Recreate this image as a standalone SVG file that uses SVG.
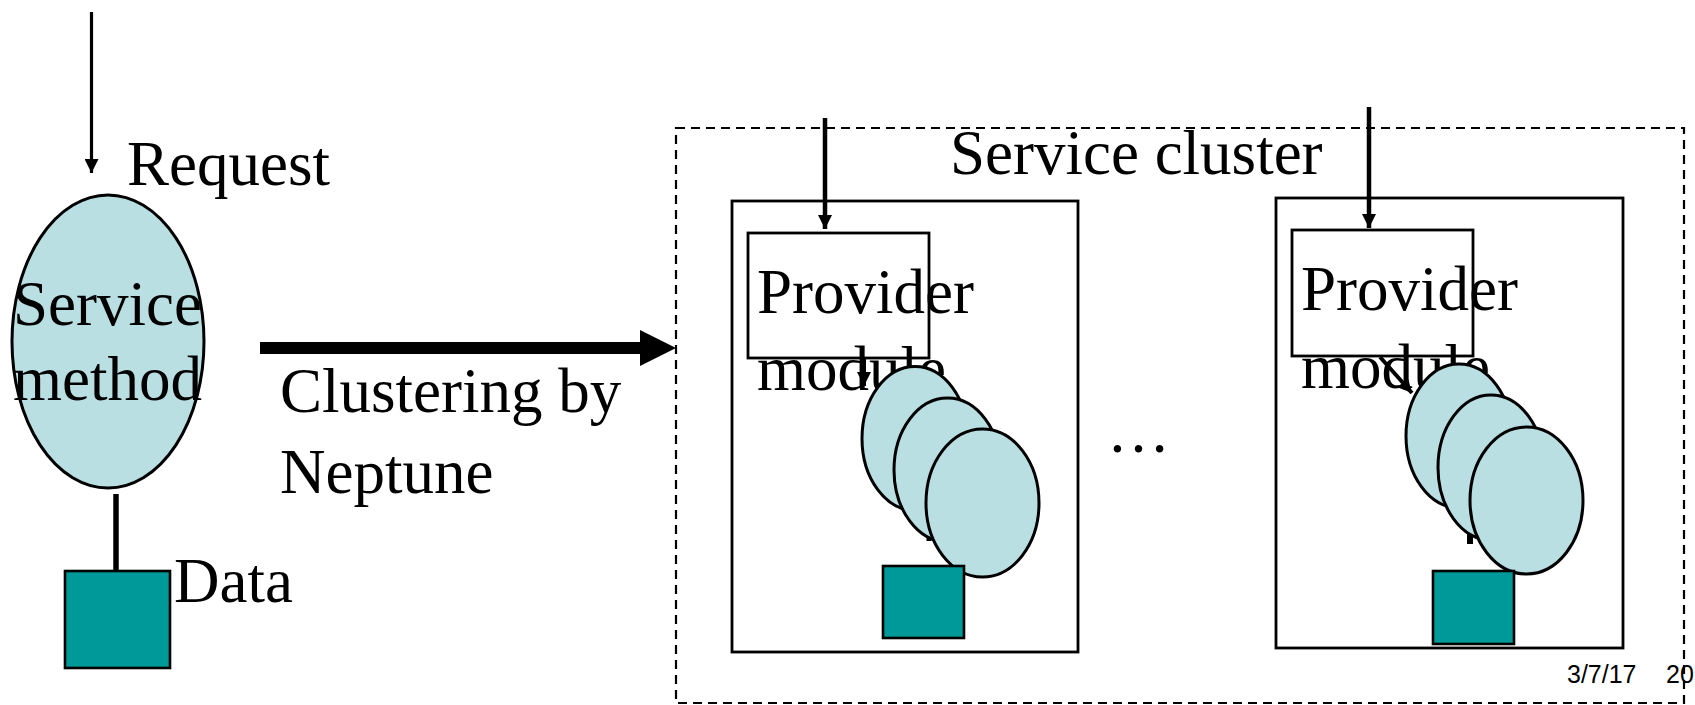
<svg xmlns="http://www.w3.org/2000/svg" width="1695" height="705" viewBox="0 0 1695 705">
  <defs>
    <style>
      .big { font-family: "Liberation Serif", "Times New Roman", serif; font-size: 63px; fill: #000; }
      .small { font-family: "Liberation Sans", Arial, sans-serif; font-size: 25px; fill: #000; }
      .blob { fill: #B9DFE3; stroke: #000; stroke-width: 3; }
      .store { fill: #009999; stroke: #000; stroke-width: 2.6; }
      .box { fill: none; stroke: #000; stroke-width: 2.8; }
      .frame { fill: #fff; stroke: #000; stroke-width: 2.8; }
      .wire { stroke: #000; fill: none; }
    </style>
    <marker id="head" viewBox="0 0 14 14" refX="14" refY="7" markerWidth="14" markerHeight="14" markerUnits="userSpaceOnUse" orient="auto">
      <path d="M0,0 L14,7 L0,14 Z" fill="#000"/>
    </marker>
  </defs>

  <rect width="1695" height="705" fill="#fff"/>

  <!-- service cluster frame -->
  <g id="cluster">
    <rect x="676" y="128" width="1008" height="575" fill="none" stroke="#000" stroke-width="2.2" stroke-dasharray="9 6"/>
    <text class="big" x="950" y="174">Service cluster</text>
    <text class="big" x="1107" y="452">…</text>
  </g>

  <!-- single service method -->
  <g id="method">
    <ellipse class="blob" cx="108" cy="341.5" rx="96" ry="146.5" stroke-width="2.4"/>
    <text class="big" x="13" y="325">Service</text>
    <text class="big" x="13" y="400">method</text>
  </g>
  <g id="data">
    <rect class="store" x="65" y="571" width="105" height="97"/>
    <text class="big" x="174" y="602">Data</text>
  </g>
  <g id="request-label">
    <text class="big" x="127" y="185">Request</text>
  </g>
  <g id="clustering-label">
    <text class="big" x="280" y="412">Clustering by</text>
    <text class="big" x="280" y="493">Neptune</text>
  </g>

  <!-- first node of the cluster -->
  <g id="node1">
    <rect class="frame" x="732" y="201" width="346" height="451"/>
    <rect class="box" x="748" y="233" width="181" height="125"/>
    <text class="big" x="757" y="313">Provider</text>
    <text class="big" x="757" y="390">module</text>
    <line class="wire" x1="864" y1="358" x2="864" y2="386" stroke-width="4" marker-end="url(#head)"/>
    <line class="wire" x1="929" y1="515" x2="929" y2="541" stroke-width="5"/>
    <ellipse class="blob" cx="915" cy="438.5" rx="53" ry="72"/>
    <ellipse class="blob" cx="947.5" cy="470" rx="53.5" ry="72"/>
    <ellipse class="blob" cx="982.5" cy="503" rx="56.5" ry="74"/>
    <rect class="store" x="883" y="566" width="81" height="72"/>
  </g>

  <!-- second node of the cluster -->
  <g id="node2">
    <rect class="frame" x="1276" y="198" width="347" height="450"/>
    <rect class="box" x="1292" y="230" width="181" height="126"/>
    <text class="big" x="1301" y="310">Provider</text>
    <text class="big" x="1301" y="388">module</text>
    <line class="wire" x1="1380" y1="357" x2="1412" y2="393" stroke-width="4" marker-end="url(#head)"/>
    <line class="wire" x1="1470" y1="515" x2="1470" y2="544" stroke-width="6"/>
    <ellipse class="blob" cx="1459" cy="436" rx="53" ry="72"/>
    <ellipse class="blob" cx="1491" cy="467.5" rx="53" ry="72.5"/>
    <ellipse class="blob" cx="1526.5" cy="500.5" rx="56.5" ry="73.5"/>
    <rect class="store" x="1433" y="571" width="81" height="73"/>
  </g>

  <!-- connectors -->
  <g id="connectors">
    <line class="wire" x1="91.5" y1="12" x2="91.5" y2="173" stroke-width="3.2" marker-end="url(#head)"/>
    <line class="wire" x1="116" y1="494" x2="116" y2="570" stroke-width="5.5"/>
    <line class="wire" x1="260" y1="348" x2="645" y2="348" stroke-width="12"/>
    <path d="M640,330 L676,348 L640,366 Z" fill="#000"/>
    <line class="wire" x1="825" y1="118" x2="825" y2="229" stroke-width="4.5" marker-end="url(#head)"/>
    <line class="wire" x1="1369" y1="107" x2="1369" y2="228" stroke-width="4.5" marker-end="url(#head)"/>
  </g>

  <!-- footer -->
  <g id="footer">
    <text class="small" x="1567" y="683">3/7/17</text>
    <text class="small" x="1666" y="683">20</text>
  </g>
</svg>
